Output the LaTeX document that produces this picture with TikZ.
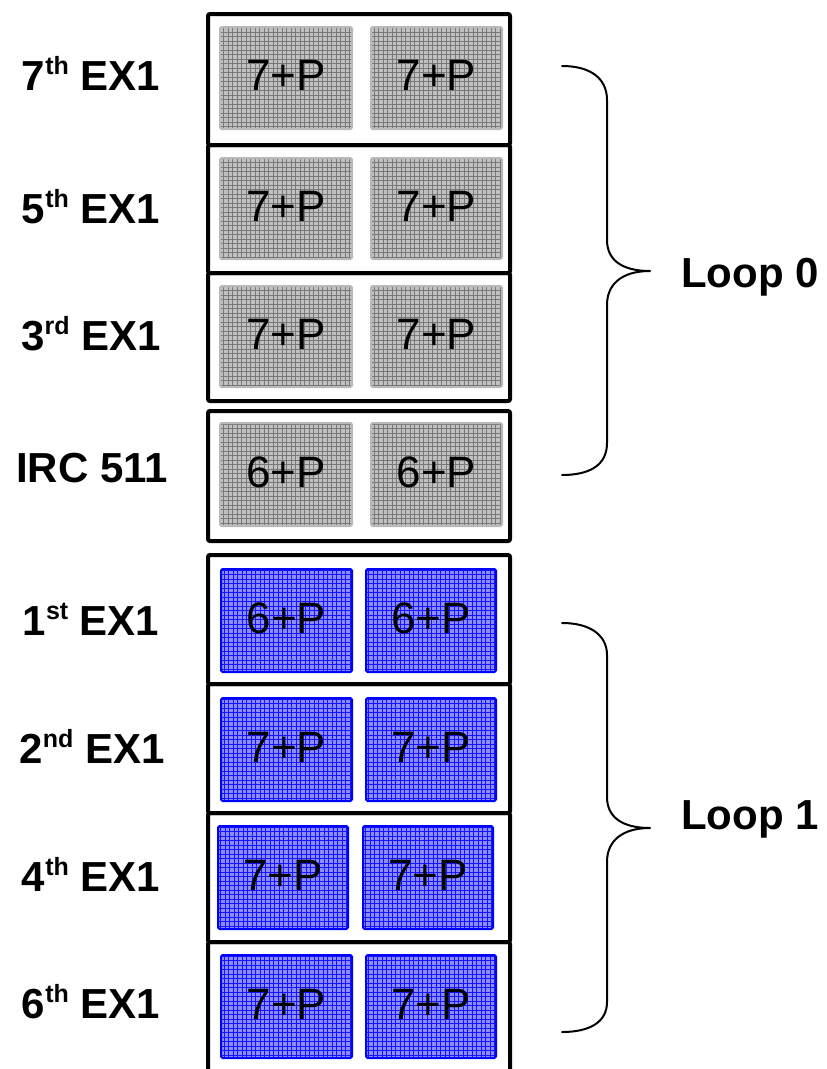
\documentclass[tikz,border=0pt]{standalone}
\usepackage{fontspec}
\setmainfont{Liberation Sans}
\definecolor{gfill}{RGB}{192,192,192}
\definecolor{gline}{RGB}{120,120,120}
\definecolor{gborder}{RGB}{185,185,185}
\definecolor{bfill}{RGB}{140,140,255}
\definecolor{bline}{RGB}{20,20,255}
\definecolor{bborder}{RGB}{0,0,255}
\newcommand{\sups}[1]{\raisebox{16pt}{\fontsize{25}{25}\selectfont #1}}
\newcommand{\cellnode}[7]{%
  \node[#2, minimum width={(#5-#3)*1pt}, minimum height={(#6-#4)*1pt}]
    (#1) at ({(#3+#5)/2},{(#4+#6)/2}) {#7};}
\begin{document}
\begin{tikzpicture}[x=1pt,y=-1pt,
  rowbox/.style={draw=black, line width=4pt, rounded corners=2pt, inner sep=0pt},
  cellbase/.style={rounded corners=1.5pt, inner sep=0pt, text depth=5pt,
     font=\fontsize{44}{44}\selectfont},
  graycell/.style={cellbase, draw=gborder, line width=2pt, fill=gfill,
     path picture={\draw[gline, line width=0.8pt, step=4.5pt]
       (path picture bounding box.south west) grid (path picture bounding box.north east);}},
  bluecell/.style={cellbase, draw=bborder, line width=2pt, fill=bfill,
     path picture={\draw[bline, line width=0.9pt, step=4.5pt]
       (path picture bounding box.south west) grid (path picture bounding box.north east);}},
  lbl/.style={anchor=base, inner sep=0pt, font=\bfseries\fontsize{42}{42}\selectfont},
  brace/.style={draw=black, line width=2pt, line cap=round, line join=round}
]
\useasboundingbox (0,0) rectangle (827,1069);
\fill[white] (0,0) rectangle (827,1069);

% gray group
\draw[rowbox] (208,14) rectangle (510,145);
\draw[rowbox] (208,145) rectangle (510,273);
\draw[rowbox] (208,273) rectangle (510,401);
\draw[rowbox] (208,411) rectangle (510,541);
% blue group
\draw[rowbox] (208,555) rectangle (510,684);
\draw[rowbox] (208,684) rectangle (510,813);
\draw[rowbox] (208,813) rectangle (510,942);
\draw[rowbox] (208,942) rectangle (510,1080);

% gray cells
\cellnode{g1a}{graycell}{220}{27}{352}{129}{7+P}
\cellnode{g1b}{graycell}{371}{27}{502}{129}{7+P}
\cellnode{g2a}{graycell}{220}{158}{352}{259}{7+P}
\cellnode{g2b}{graycell}{371}{158}{502}{259}{7+P}
\cellnode{g3a}{graycell}{220}{286}{352}{387}{7+P}
\cellnode{g3b}{graycell}{371}{286}{502}{387}{7+P}
\cellnode{g4a}{graycell}{220}{423}{352}{526}{6+P}
\cellnode{g4b}{graycell}{371}{423}{502}{526}{6+P}
% blue cells
\cellnode{b1a}{bluecell}{221}{569}{352}{672}{6+P}
\cellnode{b1b}{bluecell}{366}{569}{496}{672}{6+P}
\cellnode{b2a}{bluecell}{221}{698}{352}{801}{7+P}
\cellnode{b2b}{bluecell}{366}{698}{496}{801}{7+P}
\cellnode{b3a}{bluecell}{218}{826}{348}{929}{7+P}
\cellnode{b3b}{bluecell}{363}{826}{493}{929}{7+P}
\cellnode{b4a}{bluecell}{221}{955}{352}{1058}{7+P}
\cellnode{b4b}{bluecell}{366}{955}{496}{1058}{7+P}

% labels
\node[lbl] (l7) at (91,90) {7\sups{th} EX1};
\node[lbl] (l5) at (91,223) {5\sups{th} EX1};
\node[lbl] (l3) at (91,350) {3\sups{rd} EX1};
\node[lbl] (lirc) at (92,482) {IRC 511};
\node[lbl] (l1) at (91,635) {1\sups{st} EX1};
\node[lbl] (l2) at (92,763) {2\sups{nd} EX1};
\node[lbl] (l4) at (91,891) {4\sups{th} EX1};
\node[lbl] (l6) at (91,1018) {6\sups{th} EX1};

% braces
\coordinate (b0top) at (562,66);
\coordinate (b0tip) at (650,271);
\coordinate (b0bot) at (562,475);
\draw[brace] (b0top) .. controls (590,66) and (607,78) .. (607,100)
  -- (607,240) .. controls (607,260) and (622,271) .. (b0tip)
  .. controls (622,271) and (607,284) .. (607,305)
  -- (607,443) .. controls (607,465) and (590,475) .. (b0bot);
\coordinate (b1top) at (562,623);
\coordinate (b1tip) at (650,828);
\coordinate (b1bot) at (562,1032);
\draw[brace] (b1top) .. controls (590,623) and (607,635) .. (607,655)
  -- (607,797) .. controls (607,817) and (622,828) .. (b1tip)
  .. controls (622,828) and (607,841) .. (607,862)
  -- (607,1002) .. controls (607,1022) and (590,1032) .. (b1bot);

\node[lbl, anchor=base west] (loop0) at (681,287) {Loop 0};
\node[lbl, anchor=base west] (loop1) at (681,829) {Loop 1};
\end{tikzpicture}
\end{document}
